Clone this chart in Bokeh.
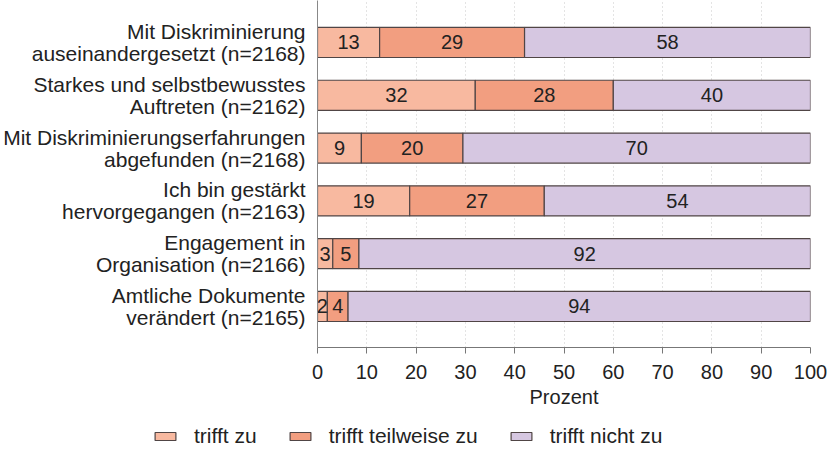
from bokeh.plotting import figure
from bokeh.models import (ColumnDataSource, Range1d, FixedTicker, Legend, LegendItem)
from bokeh.embed import file_html
from bokeh.resources import INLINE

categories = [
    "Mit Diskriminierung\nauseinandergesetzt (n=2168)",
    "Starkes und selbstbewusstes\nAuftreten (n=2162)",
    "Mit Diskriminierungserfahrungen\nabgefunden (n=2168)",
    "Ich bin gestärkt\nhervorgegangen (n=2163)",
    "Engagement in\nOrganisation (n=2166)",
    "Amtliche Dokumente\nverändert (n=2165)",
]
trifft_zu = [12.6, 32.0, 8.9, 18.7, 3.1, 2.0]
trifft_teilweise = [29.4, 28.0, 20.6, 27.3, 5.3, 4.2]
trifft_nicht = [58.0, 40.0, 70.5, 54.0, 91.6, 93.8]
labels_zu = ["13", "32", "9", "19", "3", "2"]
labels_teil = ["29", "28", "20", "27", "5", "4"]
labels_nicht = ["58", "40", "70", "54", "92", "94"]
series_names = ["trifft zu", "trifft teilweise zu", "trifft nicht zu"]
colors = ["#F8B9A0", "#F29E80", "#D6C7E1"]
x_ticks = list(range(0, 101, 10))

FONT = "Liberation Sans"
FS_Y = "21px"
FS = "20px"
TXT = "#222222"
EDGE = "#504545"
n = len(categories)
ypos = [n - i for i in range(n)]  # first category on top
bar_h = 0.57

src = ColumnDataSource(dict(y=ypos, zu=trifft_zu, teil=trifft_teilweise, nicht=trifft_nicht))

p = figure(frame_width=493, frame_height=347, output_backend="svg", toolbar_location=None,
           x_range=Range1d(0, 100), y_range=Range1d(0.223, 6.795),
           min_border_left=0, min_border_right=18, min_border_top=0, min_border_bottom=0)
p.outline_line_color = None

renderers = p.hbar_stack(["zu", "teil", "nicht"], y="y", height=bar_h, color=colors,
                         line_color=EDGE, line_width=1.2, source=src)

series = [trifft_zu, trifft_teilweise, trifft_nicht]
labels = [labels_zu, labels_teil, labels_nicht]
for i in range(3):
    mids = []
    for r in range(n):
        left = sum(series[k][r] for k in range(i))
        mids.append(left + series[i][r] / 2)
    p.text(x=mids, y=ypos, text=labels[i], text_align="center", text_baseline="middle",
           text_font={"value": FONT}, text_font_size=FS, text_color=TXT)

p.xaxis.ticker = FixedTicker(ticks=x_ticks)
p.xaxis.axis_label = "Prozent"
p.xaxis.axis_label_text_font = FONT
p.xaxis.axis_label_text_font_size = FS
p.xaxis.axis_label_text_font_style = "normal"
p.xaxis.axis_label_text_color = TXT
p.xaxis.axis_label_standoff = 4
p.xaxis.major_label_text_font = FONT
p.xaxis.major_label_text_font_size = FS
p.xaxis.major_label_text_color = TXT
p.xaxis.major_label_standoff = 11
p.xaxis.axis_line_color = "#777777"
p.xaxis.major_tick_line_color = "#777777"
p.xaxis.major_tick_out = 6
p.xaxis.major_tick_in = 0
p.xaxis.minor_tick_line_color = None

p.yaxis.ticker = FixedTicker(ticks=ypos)
p.yaxis.major_label_overrides = {y: c for y, c in zip(ypos, categories)}
p.yaxis.major_label_text_font = FONT
p.yaxis.major_label_text_font_size = FS_Y
p.yaxis.major_label_text_color = TXT
p.yaxis.major_label_text_line_height = 0.95
p.yaxis.major_label_standoff = 6
p.yaxis.axis_line_color = "#888888"
p.yaxis.major_tick_line_color = None
p.yaxis.minor_tick_line_color = None

p.xgrid.ticker = FixedTicker(ticks=x_ticks)
p.xgrid.grid_line_color = "#C8C8C8"
p.xgrid.grid_line_dash = "1 3"
p.ygrid.grid_line_color = None

# legend as its own root below the chart (swatch renderers hold no visible data)
lg = figure(width=830, height=38, output_backend="svg", toolbar_location=None,
            x_range=Range1d(0, 1), y_range=Range1d(0, 1),
            min_border_left=0, min_border_right=0, min_border_top=0, min_border_bottom=0)
lg.axis.visible = False
lg.grid.visible = False
lg.outline_line_color = None
dummies = [lg.hbar(y=[-10], right=[-10], left=[-11], height=0.5, fill_color=c,
                   line_color=EDGE, line_width=1.2) for c in colors]
legend = Legend(items=[LegendItem(label=nm, renderers=[r]) for nm, r in zip(series_names, dummies)],
                orientation="horizontal", location=(152, 0),
                label_text_font=FONT, label_text_font_size="21px", label_text_color=TXT,
                glyph_width=26, glyph_height=10, label_standoff=16, spacing=30,
                border_line_color=None, background_fill_alpha=0, padding=0, margin=0)
lg.add_layout(legend, "center")

open("out.html", "w").write(file_html([p, lg], INLINE))
